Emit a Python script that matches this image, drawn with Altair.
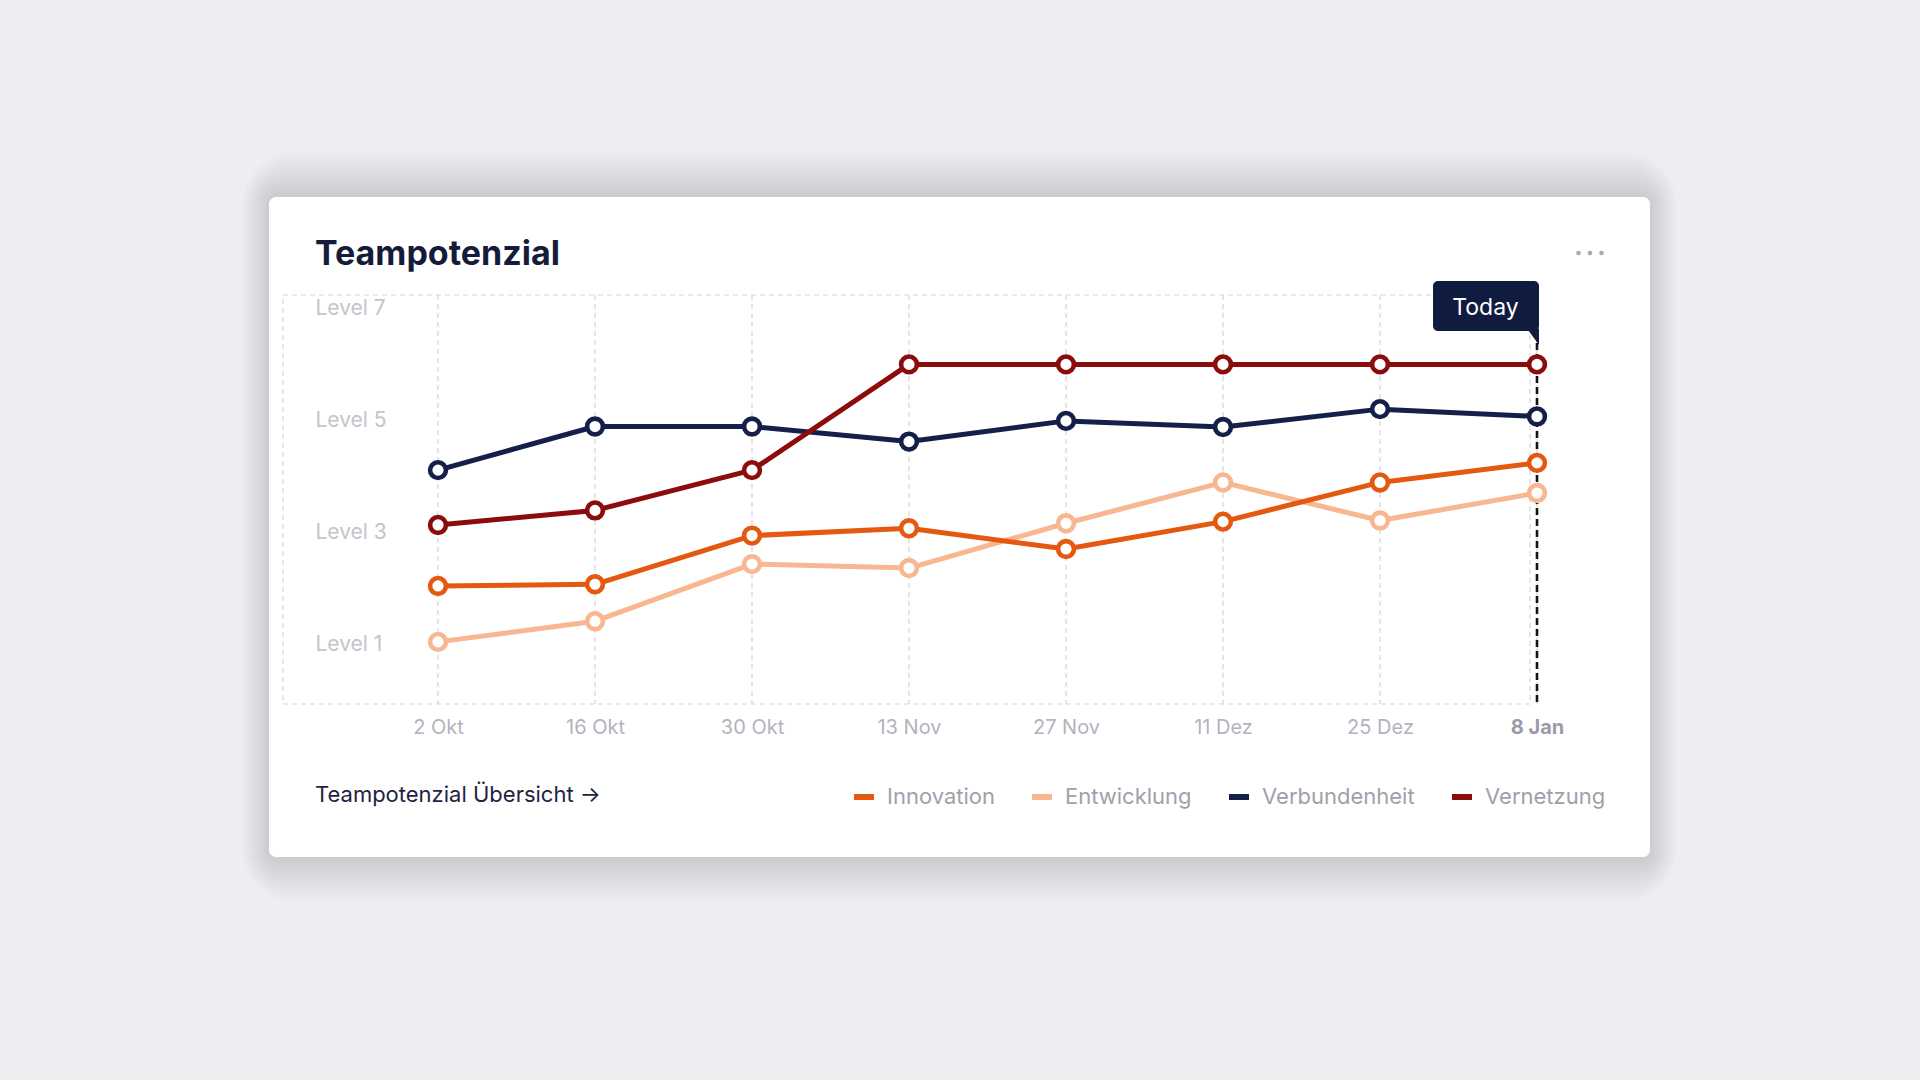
import altair as alt
import pandas as pd

# ---------------- data ----------------
dates = ["2 Okt", "16 Okt", "30 Okt", "13 Nov", "27 Nov", "11 Dez", "25 Dez", "8 Jan"]
series_names = ["Innovation", "Entwicklung", "Verbundenheit", "Vernetzung"]
series_colors = ["#E4590F", "#F8B791", "#15204A", "#8C0B0B"]

innovation = [2.04, 2.07, 2.94, 3.07, 2.70, 3.19, 3.89, 4.24]
entwicklung = [1.04, 1.41, 2.43, 2.36, 3.16, 3.89, 3.21, 3.70]
verbundenheit = [4.11, 4.89, 4.89, 4.62, 4.99, 4.88, 5.20, 5.07]
vernetzung = [3.13, 3.39, 4.11, 6.00, 6.00, 6.00, 6.00, 6.00]

level_values = [1, 3, 5, 7]
level_labels = ["Level 1", "Level 3", "Level 5", "Level 7"]

title_text = "Teampotenzial"
footer_text = "Teampotenzial Übersicht  →"
today_text = "Today"
today_date = dates[-1]

values = {
    "Innovation": innovation,
    "Entwicklung": entwicklung,
    "Verbundenheit": verbundenheit,
    "Vernetzung": vernetzung,
}
draw_order = ["Entwicklung", "Verbundenheit", "Innovation", "Vernetzung"]
rows = []
for name in draw_order:
    for d, v in zip(dates, values[name]):
        rows.append({"date": d, "value": v, "series": name})
df = pd.DataFrame(rows)
grid_df = pd.DataFrame({"date": dates})
today_df = pd.DataFrame({"date": [today_date]})
one = pd.DataFrame({"a": [0]})

# ---------------- layout ----------------
W, H = 1247, 409
PL, PT = 283, 295
FONT = "Inter"

label_map = "{" + ",".join(f"'{v}':'{l}'" for v, l in zip(level_values, level_labels)) + "}"

X = alt.X(
    "date:N",
    sort=dates,
    scale=alt.Scale(type="point", range=[155, 1254], padding=0),
    axis=alt.Axis(
        title=None, grid=False, domain=False, ticks=False, tickSize=0,
        labelAngle=0, labelPadding=23, labelBaseline="middle",
        labelFont=FONT, labelFontSize=20,
        labelColor={"condition": {"test": f"datum.value === '{today_date}'", "value": "#9A9AA8"}, "value": "#B3B3BE"},
        labelFontWeight={"condition": {"test": f"datum.value === '{today_date}'", "value": "bold"}, "value": "normal"},
        labelOverlap=False, labelFlush=False, zindex=1,
    ),
)
Y = alt.Y(
    "value:Q",
    scale=alt.Scale(domain=[-0.07, 7.24], nice=False, zero=False),
    axis=alt.Axis(
        title=None, grid=False, domain=False, ticks=False, tickSize=0,
        values=level_values, labelExpr=f"{label_map}[datum.value]",
        labelAlign="left", labelBaseline="middle", labelPadding=-32,
        labelFont=FONT, labelFontSize=21, labelColor="#C4C4CC", zindex=1,
    ),
)
legend = alt.Legend(
    title=None, orient="none", legendX=568, legendY=489, direction="horizontal",
    symbolType="stroke", symbolStrokeWidth=6, symbolSize=400,
    labelFont=FONT, labelFontSize=22, labelColor="#A0A0AB",
    labelOffset=10, columnPadding=25,
)
color = alt.Color("series:N", scale=alt.Scale(domain=series_names, range=series_colors), legend=legend)

layers = []

# card shadow
card = dict(x0=269 - PL, x1=1650 - PL, y0=197 - PT, y1=857 - PT)
for e in range(44, 0, -4):
    ex = e * 0.6
    layers.append(
        alt.Chart(one).mark_rect(fill="#202028", opacity=0.011, cornerRadius=7 + e).encode(
            x=alt.value(card["x0"] - ex), x2=alt.value(card["x1"] + ex),
            y=alt.value(card["y0"] - e), y2=alt.value(card["y1"] + e),
        )
    )
# card
layers.append(
    alt.Chart(one).mark_rect(fill="white", cornerRadius=7).encode(
        x=alt.value(card["x0"]), x2=alt.value(card["x1"]),
        y=alt.value(card["y0"]), y2=alt.value(card["y1"]),
    )
)
# dashed plot box
layers.append(
    alt.Chart(one).mark_rect(fillOpacity=0, stroke="#D6D6DC", strokeWidth=1.2, strokeDash=[5, 4]).encode(
        x=alt.value(0), x2=alt.value(W), y=alt.value(0), y2=alt.value(H),
    )
)
# vertical grid lines
layers.append(
    alt.Chart(grid_df).mark_rule(color="#D3D3DA", strokeWidth=1.2, strokeDash=[5, 4]).encode(x=X)
)
# today line
layers.append(
    alt.Chart(today_df).mark_rule(color="#141414", strokeWidth=2.6, strokeDash=[7, 4]).encode(
        x=X, y=alt.value(48), y2=alt.value(H)
    )
)
# series
layers.append(
    alt.Chart(df).mark_line(strokeWidth=5, strokeCap="round", strokeJoin="round").encode(x=X, y=Y, color=color)
)
layers.append(
    alt.Chart(df).mark_point(filled=False, fill="white", size=250, strokeWidth=4.6, opacity=1).encode(
        x=X, y=Y, color=color
    )
)
# today tooltip
layers.append(
    alt.Chart(one).mark_rect(fill="#0F1C40", cornerRadius=5).encode(
        x=alt.value(1433 - PL), x2=alt.value(1539 - PL), y=alt.value(281 - PT), y2=alt.value(331 - PT)
    )
)
layers.append(
    alt.Chart(one).mark_point(shape="M-0.8,-1.2L0.8,-1.2L0.8,1Z", filled=True, fill="#0F1C40",
                              size=225, strokeWidth=0, opacity=1).encode(
        x=alt.value(1533 - PL), y=alt.value(337.5 - PT)
    )
)
layers.append(
    alt.Chart(one).mark_text(text=today_text, font=FONT, fontSize=23, color="white", align="center",
                             baseline="alphabetic").encode(
        x=alt.value(1485.5 - PL), y=alt.value(315 - PT)
    )
)
# title
layers.append(
    alt.Chart(one).mark_text(text=title_text, font=FONT, fontSize=34, fontWeight="bold", color="#151B3B",
                             align="left", baseline="alphabetic").encode(
        x=alt.value(315 - PL), y=alt.value(265 - PT)
    )
)
# footer link
layers.append(
    alt.Chart(one).mark_text(text=footer_text, font=FONT, fontSize=22, color="#1E243F",
                             align="left", baseline="middle").encode(
        x=alt.value(315 - PL), y=alt.value(795 - PT)
    )
)
# menu dots
for dx in [1578.5, 1590, 1601.5]:
    layers.append(
        alt.Chart(one).mark_circle(color="#A8A8B3", size=22, opacity=1).encode(
            x=alt.value(dx - PL), y=alt.value(253 - PT)
        )
    )

chart = alt.layer(*layers).properties(
    width=W, height=H,
    padding={"left": PL, "top": PT, "right": 1920 - PL - W, "bottom": 1080 - PT - H},
    autosize=alt.AutoSizeParams(type="none"),
).configure(background="#EDEDF2").configure_view(stroke=None)

chart.save("out.html", embed_options={"renderer": "svg", "actions": False})
